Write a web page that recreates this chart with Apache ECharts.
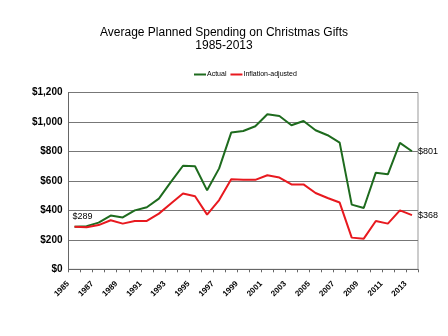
<!DOCTYPE html>
<html><head><meta charset="utf-8">
<script src="https://cdn.jsdelivr.net/npm/echarts@6/dist/echarts.min.js"></script>
<style>html,body{margin:0;padding:0;background:#fff}#c{width:448px;height:336px}</style>
</head><body><div id="c"></div>
<script>
const years = ['1985','1986','1987','1988','1989','1990','1991','1992','1993','1994','1995','1996','1997','1998','1999','2000','2001','2002','2003','2004','2005','2006','2007','2008','2009','2010','2011','2012','2013'];
const actual = [289,293,317,365,352,400,421,480,593,703,699,536,685,928,939,971,1052,1040,978,1007,944,910,860,439,416,656,645,858,801];
const inflationAdjusted = [289,285,300,333,310,328,328,378,446,514,496,371,470,611,607,607,638,623,576,576,518,484,453,215,208,328,310,400,368];
const yTicks = [0,200,400,600,800,1000,1200];

function fmt(v){ return '$' + v.toString().replace(/\B(?=(\d{3})+(?!\d))/g, ','); }

function withLabels(arr, first, last){
  return arr.map((v,i)=>{
    if(i===0 && first) return {value:v,label:Object.assign({show:true,formatter:fmt(v)},first)};
    if(i===arr.length-1 && last) return {value:v,label:Object.assign({show:true,formatter:fmt(v)},last)};
    return v;
  });
}

const chart = echarts.init(document.getElementById('c'));
chart.setOption({
  animation:false,
  backgroundColor:'#fff',
  title:{
    text:'Average Planned Spending on Christmas Gifts\n1985-2013',
    left:'center', top:21,
    textStyle:{fontFamily:'Liberation Sans',fontSize:12,fontWeight:'normal',color:'#000',lineHeight:13}
  },
  legend:{
    top:66, left:189,
    itemWidth:12, itemHeight:2, itemGap:4,
    icon:'rect',
    textStyle:{fontFamily:'Liberation Sans',fontSize:7,color:'#000',padding:[0,0,0,-4]},
    data:['Actual','Inflation-adjusted']
  },
  grid:{left:68.5,right:30,top:92.5,bottom:66.7,show:true,borderColor:'#999',borderWidth:1},
  xAxis:{
    type:'category', data:years, boundaryGap:true,
    axisLine:{lineStyle:{color:'#666',width:1}},
    axisTick:{show:true,interval:0,length:3,lineStyle:{color:'#666'}},
    axisLabel:{interval:1,rotate:45,fontFamily:'Liberation Sans',fontSize:8,fontWeight:'bold',color:'#000',margin:7,padding:[0,9,0,0]},
    splitLine:{show:false}
  },
  yAxis:{
    type:'value', min:0, max:1200, interval:200,
    axisLine:{show:true,lineStyle:{color:'#666',width:1}},
    axisTick:{show:false},
    axisLabel:{formatter:fmt,fontFamily:'Liberation Sans',fontSize:10,fontWeight:'bold',color:'#000',margin:6},
    splitLine:{show:true,lineStyle:{color:'#777',width:1}}
  },
  series:[
    {name:'Actual',type:'line',symbol:'circle',symbolSize:0,showSymbol:true,color:'#1e6b1e',
     lineStyle:{width:2,color:'#1e6b1e'},
     data:withLabels(actual,{position:'top',offset:[8,-1],fontFamily:'Liberation Sans',fontSize:9,color:'#000'},{position:'right',distance:6,fontFamily:'Liberation Sans',fontSize:9,color:'#000'})},
    {name:'Inflation-adjusted',type:'line',symbol:'circle',symbolSize:0,showSymbol:true,color:'#e8191f',
     lineStyle:{width:2,color:'#e8191f'},
     data:withLabels(inflationAdjusted,null,{position:'right',distance:6,fontFamily:'Liberation Sans',fontSize:9,color:'#000'})}
  ]
});
</script></body></html>
